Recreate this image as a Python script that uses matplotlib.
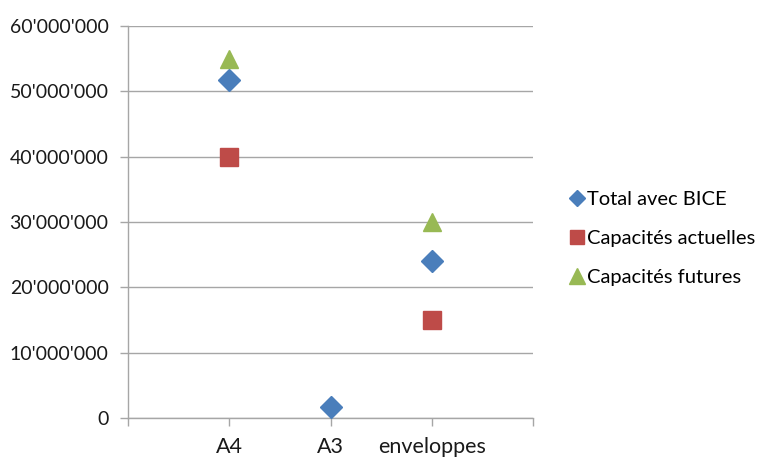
import numpy as np
import matplotlib
matplotlib.use("Agg")
import matplotlib.pyplot as plt
from matplotlib.ticker import FuncFormatter, MultipleLocator

plt.rcParams['font.family'] = ['Lato', 'DejaVu Sans']

categories = ["A4", "A3", "enveloppes"]
total_bice = [51.7e6, 1.7e6, 24.1e6]
capacites_actuelles = [40e6, np.nan, 15e6]
capacites_futures = [55e6, np.nan, 30e6]

series = [
    ("Total avec BICE", total_bice, "D", "#4a7ebb", 11.5, 8.5),
    ("Capacités actuelles", capacites_actuelles, "s", "#be4b48", 12.5, 10),
    ("Capacités futures", capacites_futures, "^", "#98b954", 13.5, 11),
]

fig = plt.figure(figsize=(7.63, 4.59), dpi=100)
ax = fig.add_axes([128 / 763, 1 - 418 / 459, 405 / 763, 392 / 459])

x = np.arange(1, len(categories) + 1)
for name, vals, mk, col, ms, _ in series:
    ax.plot(x, vals, linestyle="none", marker=mk, color=col, markersize=ms,
            markeredgecolor=col, label=name, zorder=3, clip_on=False)

ax.set_xlim(0, 4)
ax.set_ylim(0, 60e6)
ax.yaxis.set_major_locator(MultipleLocator(10e6))
ax.yaxis.set_major_formatter(FuncFormatter(
    lambda v, p: "0" if v == 0 else f"{int(v):,}".replace(",", "'")))
ax.set_xticks(np.arange(0, 5))
ax.set_xticklabels([""] + categories + [""])

grid_col = "#a6a6a6"
ax.grid(axis="y", color=grid_col, linewidth=1)
ax.set_axisbelow(True)
for s in ["top", "right"]:
    ax.spines[s].set_visible(False)
for s in ["left", "bottom"]:
    ax.spines[s].set_color(grid_col)
    ax.spines[s].set_linewidth(1)
ax.tick_params(axis="both", colors=grid_col, length=6, width=1,
               labelcolor="#1a1a1a")
ax.tick_params(axis="x", pad=8, labelsize=15.5)
ax.tick_params(axis="y", pad=8, labelsize=14)

leg = ax.legend(loc="center left", bbox_to_anchor=(1.062, 0.458), frameon=False,
                fontsize=14.5, handletextpad=0.05, labelspacing=1.08,
                handlelength=0.9, borderpad=0)
for h, s in zip(leg.legend_handles, series):
    h.set_markersize(s[5])

fig.savefig("out.png", dpi=100, facecolor="white")
